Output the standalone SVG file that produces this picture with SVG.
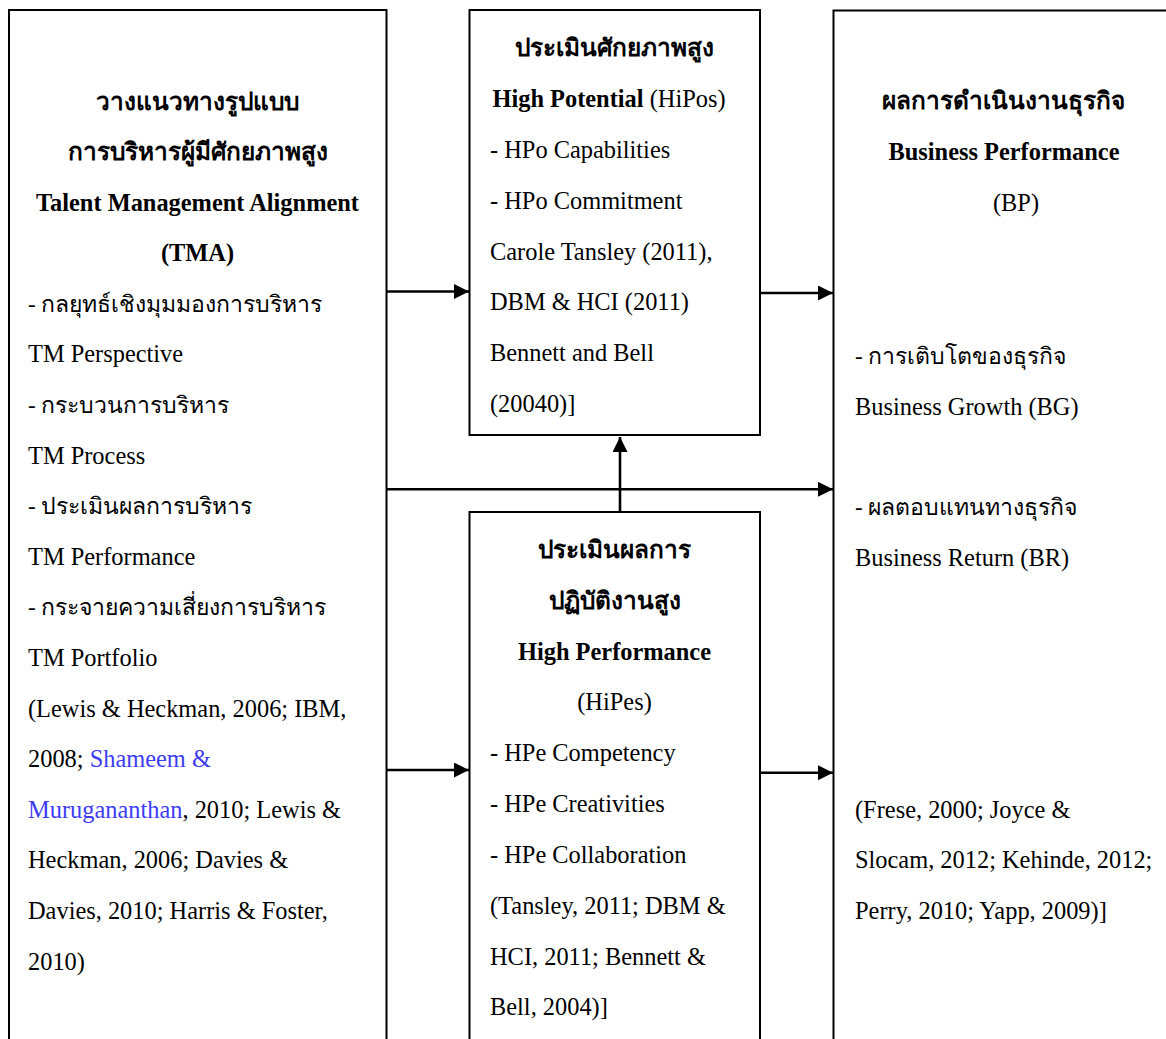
<svg xmlns="http://www.w3.org/2000/svg" width="1166" height="1039" viewBox="0 0 1166 1039">
<style>
.box{fill:#fff;stroke:#000;stroke-width:2}
text{font-family:"Liberation Serif","DejaVu Serif",serif;font-size:24.4px;fill:#000}
.b{font-weight:bold}
.c{text-anchor:middle}
.th{font-size:23px}
.blue{fill:#3c3cf5}
.conn{stroke:#000;stroke-width:2.6;fill:none}
</style>
<defs>
<marker id="ah" markerUnits="userSpaceOnUse" markerWidth="16" markerHeight="16" refX="15" refY="7.5" orient="auto">
<path d="M0,0 L15,7.5 L0,15 Z" fill="#000"/>
</marker>
</defs>
<rect width="1166" height="1039" fill="#fff"/>

<g id="tma">
<rect class="box" x="9" y="10" width="377.5" height="1045"/>
<text class="b c" x="197.5" y="109.5">วางแนวทางรูปแบบ</text>
<text class="b c" x="197.5" y="160">การบริหารผู้มีศักยภาพสูง</text>
<text class="b c" x="197.5" y="210.5">Talent Management Alignment</text>
<text class="b c" x="197.5" y="261">(TMA)</text>
<text class="th" x="28" y="311.7">- กลยุทธ์เชิงมุมมองการบริหาร</text>
<text x="28" y="362.3">TM Perspective</text>
<text class="th" x="28" y="412.9">- กระบวนการบริหาร</text>
<text x="28" y="463.5">TM Process</text>
<text class="th" x="28" y="514.1">- ประเมินผลการบริหาร</text>
<text x="28" y="564.7">TM Performance</text>
<text class="th" x="28" y="615.3">- กระจายความเสี่ยงการบริหาร</text>
<text x="28" y="665.9">TM Portfolio</text>
<text x="28" y="716.5">(Lewis &amp; Heckman, 2006; IBM,</text>
<text x="28" y="767.1">2008; <tspan class="blue">Shameem &amp;</tspan></text>
<text x="28" y="817.7"><tspan class="blue">Murugananthan</tspan>, 2010; Lewis &amp;</text>
<text x="28" y="868.3">Heckman, 2006; Davies &amp;</text>
<text x="28" y="918.9">Davies, 2010; Harris &amp; Foster,</text>
<text x="28" y="969.5">2010)</text>
</g>

<g id="hipos">
<rect class="box" x="469.5" y="10" width="290.5" height="425"/>
<text class="b c" x="614.5" y="56">ประเมินศักยภาพสูง</text>
<text class="c" x="609" y="107"><tspan class="b">High Potential</tspan> (HiPos)</text>
<text x="490" y="158">- HPo Capabilities</text>
<text x="490" y="208.8">- HPo Commitment</text>
<text x="490" y="259.5">Carole Tansley (2011),</text>
<text x="490" y="310.3">DBM &amp; HCI (2011)</text>
<text x="490" y="361">Bennett and Bell</text>
<text x="490" y="411.7">(20040)]</text>
</g>

<g id="hipes">
<rect class="box" x="469.5" y="512" width="290.5" height="540"/>
<text class="b c" x="614.5" y="558">ประเมินผลการ</text>
<text class="b c" x="614.5" y="608.5">ปฏิบัติงานสูง</text>
<text class="b c" x="614.5" y="659.5">High Performance</text>
<text class="c" x="614.5" y="710">(HiPes)</text>
<text x="490" y="761">- HPe Competency</text>
<text x="490" y="812">- HPe Creativities</text>
<text x="490" y="863">- HPe Collaboration</text>
<text x="490" y="914">(Tansley, 2011; DBM &amp;</text>
<text x="490" y="964.5">HCI, 2011; Bennett &amp;</text>
<text x="490" y="1015">Bell, 2004)]</text>
</g>

<g id="bp">
<rect class="box" x="833.5" y="10.5" width="400" height="1045"/>
<text class="b c" x="1003" y="109">ผลการดำเนินงานธุรกิจ</text>
<text class="b c" x="1004" y="160">Business Performance</text>
<text class="c" x="1016" y="210.5">(BP)</text>
<text class="th" x="855" y="364">- การเติบโตของธุรกิจ</text>
<text x="855" y="414.5">Business Growth (BG)</text>
<text class="th" x="855" y="515">- ผลตอบแทนทางธุรกิจ</text>
<text x="855" y="565.5">Business Return (BR)</text>
<text x="855" y="818">(Frese, 2000; Joyce &amp;</text>
<text x="855" y="868">Slocam, 2012; Kehinde, 2012;</text>
<text x="855" y="918.5">Perry, 2010; Yapp, 2009)]</text>
</g>

<g id="connectors">
<line class="conn" x1="387" y1="291.5" x2="469" y2="291.5" marker-end="url(#ah)"/>
<line class="conn" x1="761" y1="293" x2="833" y2="293" marker-end="url(#ah)"/>
<line class="conn" x1="387" y1="489.3" x2="833" y2="489.3" marker-end="url(#ah)"/>
<line class="conn" x1="620" y1="511" x2="620" y2="437" marker-end="url(#ah)"/>
<line class="conn" x1="387" y1="770" x2="469" y2="770" marker-end="url(#ah)"/>
<line class="conn" x1="761" y1="772.7" x2="833" y2="772.7" marker-end="url(#ah)"/>
</g>
</svg>
